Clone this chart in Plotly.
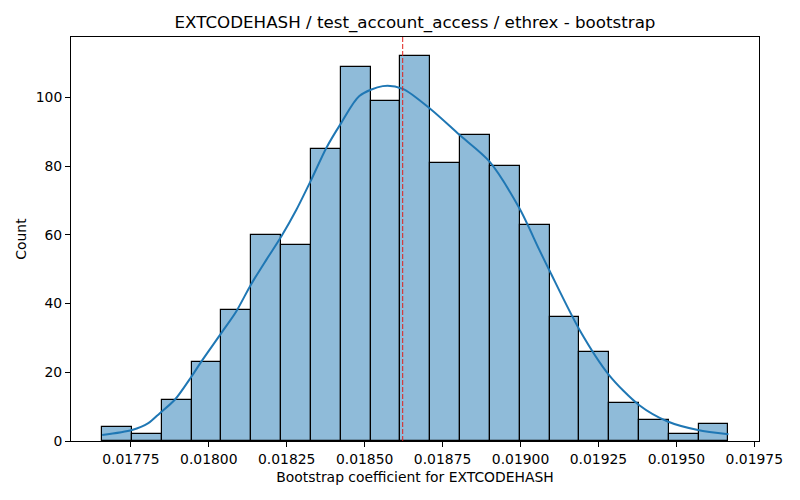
import numpy as np
import plotly.graph_objects as go

# histogram (21 bins)
bin_start = 0.017658
bin_width = 0.00009567
counts = [4, 2, 12, 23, 38, 60, 57, 85, 109, 99, 112, 81, 89, 80, 63, 36, 26, 11, 6, 2, 5]

# kde curve
kde_x = [0.017658, 0.017754, 0.017806, 0.017843, 0.017891, 0.017944, 0.017976,
         0.018040, 0.018088, 0.018135, 0.018185, 0.018233, 0.018281, 0.018329,
         0.018377, 0.018425, 0.018483, 0.018558, 0.018622, 0.018713, 0.018803,
         0.018900, 0.018996, 0.019060, 0.019094, 0.019189, 0.019284, 0.019380,
         0.019474, 0.019569, 0.019667]
kde_y = [1.75, 3.2, 5.2, 8.1, 12.0, 18.7, 23.1, 31.4, 37.7, 45.5, 52.8, 59.6,
         67.3, 76.1, 85.3, 92.6, 100.4, 103.3, 102.5, 96.5, 89.2, 81.4, 67.8,
         55.7, 49.4, 32.4, 19.2, 10.5, 5.6, 3.2, 1.95]

mean_value = 0.018622

x_ticks = [0.01775, 0.01800, 0.01825, 0.01850, 0.01875, 0.01900, 0.01925, 0.01950, 0.01975]
y_ticks = [0, 20, 40, 60, 80, 100]

centers = bin_start + bin_width * (np.arange(len(counts)) + 0.5)

fig = go.Figure()

fig.add_trace(go.Bar(
    x=centers,
    y=counts,
    width=bin_width,
    marker=dict(color='rgba(31,119,180,0.5)', line=dict(color='black', width=1.2)),
    showlegend=False,
    hoverinfo='x+y'
))

fig.add_trace(go.Scatter(
    x=kde_x,
    y=kde_y,
    mode='lines',
    line=dict(color='#1f77b4', width=2, shape='spline', smoothing=0.8),
    showlegend=False
))

# mean marker
fig.add_shape(type='line', x0=mean_value, x1=mean_value, y0=0, y1=1,
              xref='x', yref='paper',
              line=dict(color='#e0201c', width=1, dash='5px,2px'))

axis_font = dict(family='DejaVu Sans', size=13.9, color='black')

fig.update_layout(
    width=800, height=500,
    margin=dict(l=71, r=41, t=37, b=59),
    paper_bgcolor='white',
    plot_bgcolor='white',
    bargap=0,
    font=axis_font,
    title=dict(text='EXTCODEHASH / test_account_access / ethrex - bootstrap',
               x=0.5, xref='paper', xanchor='center',
               y=0.955, yref='container', yanchor='middle',
               font=dict(family='DejaVu Sans', size=16.7, color='black')),
    xaxis=dict(
        range=[0.017558, 0.019765],
        tickvals=x_ticks,
        ticktext=['%.5f' % v for v in x_ticks],
        ticks='outside', ticklen=5, tickwidth=1, tickcolor='black',
        showline=True, linecolor='black', linewidth=1, mirror=True,
        showgrid=False, zeroline=False,
        title=dict(text='Bootstrap coefficient for EXTCODEHASH', standoff=6,
                   font=axis_font),
        tickfont=axis_font
    ),
    yaxis=dict(
        range=[0, 117.6],
        tickvals=y_ticks,
        ticks='outside', ticklen=5, tickwidth=1, tickcolor='black',
        showline=True, linecolor='black', linewidth=1, mirror=True,
        showgrid=False, zeroline=False,
        title=dict(text='Count', standoff=5, font=axis_font),
        tickfont=axis_font
    )
)

# drop the default page margin so the figure sits at the top-left corner
fig.write_html("out.html", config={'displayModeBar': False},
               post_script="document.body.style.margin='0';")
